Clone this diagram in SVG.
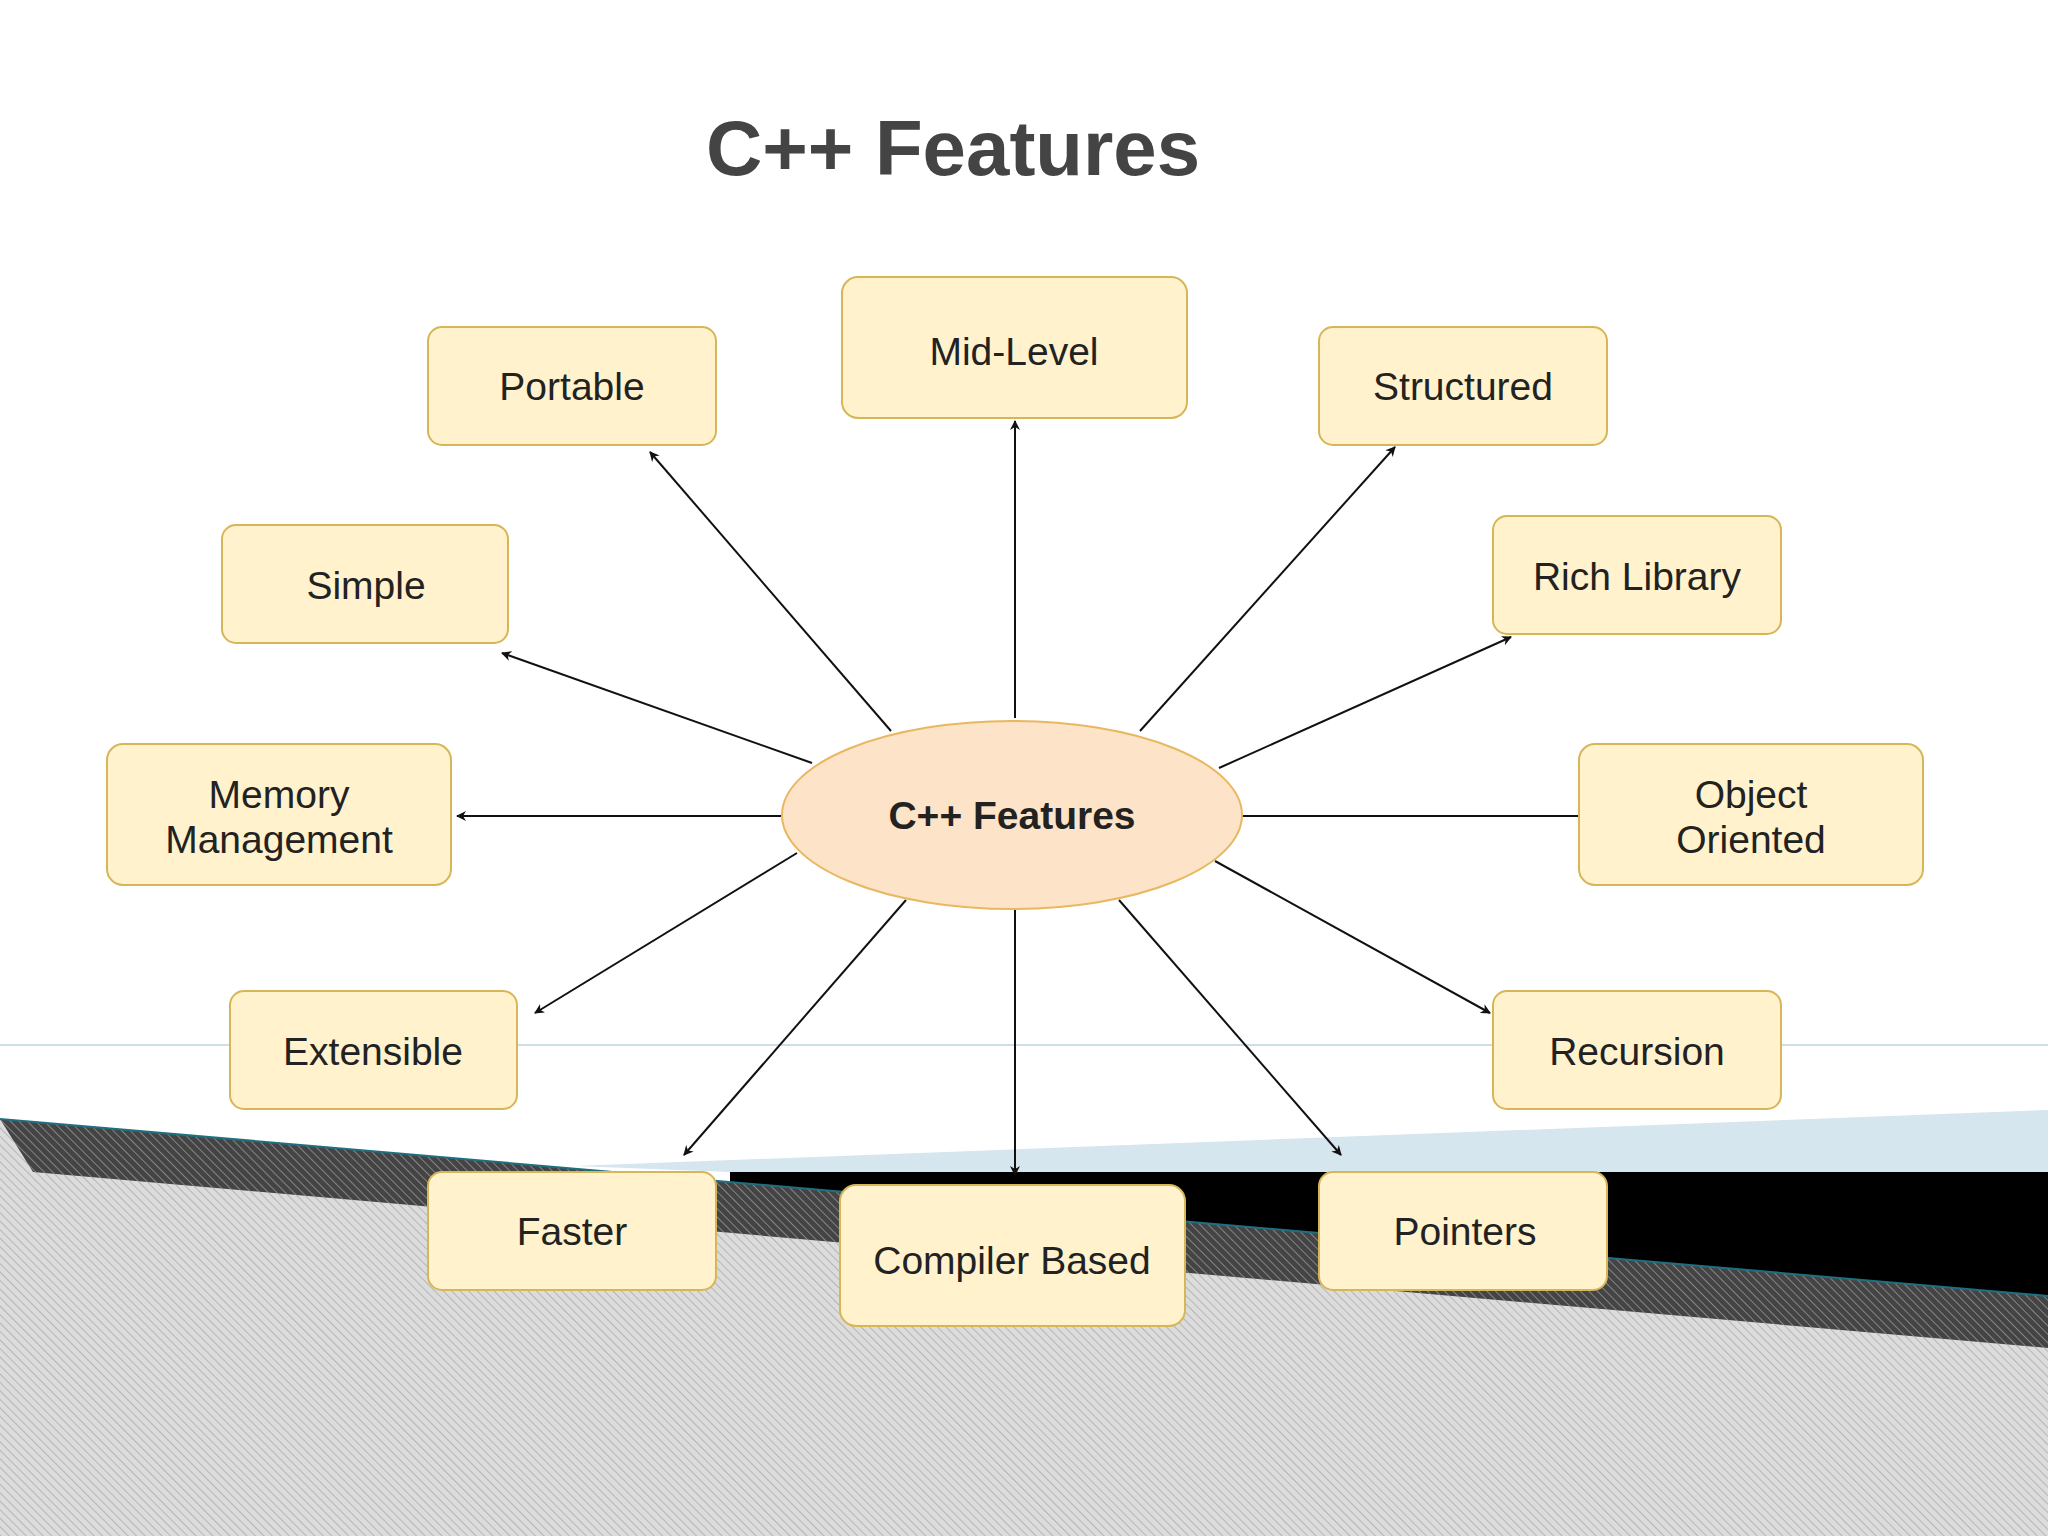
<svg xmlns="http://www.w3.org/2000/svg" width="2048" height="1536" viewBox="0 0 2048 1536">
<style>
.box{fill:#fff2cc;stroke:#d6b656;stroke-width:2}
.t{font-family:"Liberation Sans",Arial,sans-serif;font-size:39px;fill:#222;text-anchor:middle}
.c line{stroke:#111;stroke-width:2;marker-end:url(#ah)}
</style>
<defs>
<marker id="ah" viewBox="0 0 10 10" refX="9" refY="5" markerWidth="10" markerHeight="10" markerUnits="userSpaceOnUse" orient="auto"><path d="M0,0 L10,5 L0,10 L3,5 z" fill="#111"/></marker>
<pattern id="hl" width="6" height="6" patternUnits="userSpaceOnUse" patternTransform="rotate(-45)"><rect width="6" height="6" fill="#dcdcdc"/><line x1="0" y1="0" x2="0" y2="6" stroke="#a8a8a8" stroke-width="1.5"/></pattern>
<pattern id="hd" width="6" height="6" patternUnits="userSpaceOnUse" patternTransform="rotate(-45)"><rect width="6" height="6" fill="#444"/><line x1="0" y1="0" x2="0" y2="6" stroke="#999" stroke-width="1.5"/></pattern>
</defs>
<rect width="2048" height="1536" fill="#fff"/>
<g id="background">
<line x1="0" y1="1045" x2="2048" y2="1045" stroke="#bcd3dc" stroke-width="1.5"/>
<polygon points="575,1166 2048,1110 2048,1172 730,1172" fill="#d6e6ee"/>
<polygon points="730,1172 2048,1172 2048,1296 730,1182" fill="#000"/>
<polygon points="0,1119 2048,1296 2048,1536 0,1536" fill="url(#hl)"/>
<polygon points="0,1119 2048,1296 2048,1348 33,1172" fill="url(#hd)"/>
<line x1="0" y1="1119" x2="2048" y2="1296" stroke="#1f6f80" stroke-width="2"/>
</g>
<text x="953" y="175" style="font-family:'Liberation Sans',Arial,sans-serif;font-size:78px;font-weight:bold;fill:#444;text-anchor:middle">C++ Features</text>
<g class="c" id="connectors">
<line x1="891" y1="731" x2="650" y2="452"/>
<line x1="1015" y1="718" x2="1015" y2="421"/>
<line x1="1140" y1="731" x2="1395" y2="447"/>
<line x1="1219" y1="768" x2="1511" y2="637"/>
<line x1="812" y1="763" x2="502" y2="653"/>
<line x1="781" y1="816" x2="457" y2="816"/>
<line x1="1242" y1="816" x2="1590" y2="816"/>
<line x1="797" y1="853" x2="535" y2="1013"/>
<line x1="1215" y1="861" x2="1490" y2="1013"/>
<line x1="906" y1="900" x2="684" y2="1155"/>
<line x1="1015" y1="910" x2="1015" y2="1175"/>
<line x1="1119" y1="900" x2="1341" y2="1155"/>
</g>
<g id="center"><ellipse cx="1012" cy="815" rx="230" ry="94" fill="#fde3c8" stroke="#e8b860" stroke-width="2"/><text class="t" x="1012" y="829" font-weight="bold">C++ Features</text></g>
<g id="portable"><rect class="box" x="428" y="327" width="288" height="118" rx="14"/><text class="t" x="572" y="400">Portable</text></g>
<g id="midlevel"><rect class="box" x="842" y="277" width="345" height="141" rx="16"/><text class="t" x="1014" y="365">Mid-Level</text></g>
<g id="structured"><rect class="box" x="1319" y="327" width="288" height="118" rx="14"/><text class="t" x="1463" y="400">Structured</text></g>
<g id="richlibrary"><rect class="box" x="1493" y="516" width="288" height="118" rx="14"/><text class="t" x="1637" y="590">Rich Library</text></g>
<g id="simple"><rect class="box" x="222" y="525" width="286" height="118" rx="14"/><text class="t" x="366" y="599">Simple</text></g>
<g id="memory"><rect class="box" x="107" y="744" width="344" height="141" rx="16"/><text class="t" x="279" y="808">Memory</text><text class="t" x="279" y="853">Management</text></g>
<g id="object"><rect class="box" x="1579" y="744" width="344" height="141" rx="16"/><text class="t" x="1751" y="808">Object</text><text class="t" x="1751" y="853">Oriented</text></g>
<g id="extensible"><rect class="box" x="230" y="991" width="287" height="118" rx="14"/><text class="t" x="373" y="1065">Extensible</text></g>
<g id="recursion"><rect class="box" x="1493" y="991" width="288" height="118" rx="14"/><text class="t" x="1637" y="1065">Recursion</text></g>
<g id="faster"><rect class="box" x="428" y="1172" width="288" height="118" rx="14"/><text class="t" x="572" y="1245">Faster</text></g>
<g id="compiler"><rect class="box" x="840" y="1185" width="345" height="141" rx="16"/><text class="t" x="1012" y="1274">Compiler Based</text></g>
<g id="pointers"><rect class="box" x="1319" y="1172" width="288" height="118" rx="14"/><text class="t" x="1465" y="1245">Pointers</text></g>
</svg>
